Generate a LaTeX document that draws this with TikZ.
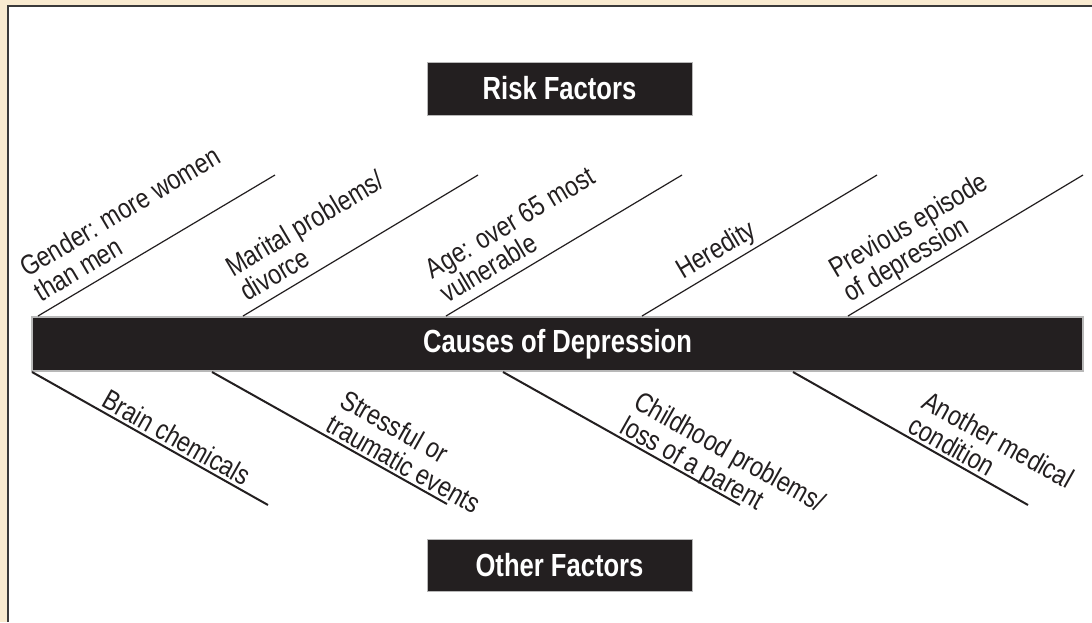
\documentclass[tikz,border=0pt]{standalone}
\usepackage{fontspec}
\setmainfont{Liberation Sans}
\newfontfamily\labfont{Liberation Sans}[FakeStretch=0.83]
\newfontfamily\ttlfont{Liberation Sans}[FakeStretch=0.8]
\usetikzlibrary{calc}
\definecolor{cream}{HTML}{F9EBD0}
\definecolor{ink}{HTML}{231F20}
\definecolor{framec}{HTML}{3A3A3A}
\definecolor{baredge}{HTML}{B8B8B8}
\begin{document}
\begin{tikzpicture}[x=1pt,y=-1pt,
  ttlbox/.style={fill=ink, draw=baredge, line width=1pt, text=white,
    font=\ttlfont\bfseries\fontsize{32}{34}\selectfont, inner sep=0pt},
  upline/.style={draw=ink, line width=1.2pt},
  lowline/.style={draw=ink, line width=2pt},
  lbl/.style={text=ink, font=\labfont\fontsize{28}{26.5}\selectfont, inner sep=0pt, anchor=base west},
]
\useasboundingbox (0,0) rectangle (1092,622);
\fill[cream] (0,0) rectangle (1092,622);
\fill[white] (7.5,5.8) rectangle (1092,622);
\draw[framec, line width=2pt] (7.5,622) -- (7.5,5.8) -- (1092,5.8);

% titles
\node[ttlbox, minimum width=265pt, minimum height=53pt] (risk) at (559.5,88.5) {Risk Factors};
\node[ttlbox, minimum width=265pt, minimum height=52pt] (other) at (559.5,565.5) {Other Factors};
\node[ttlbox, line width=1.6pt, minimum width=1051pt, minimum height=54pt] (bar) at (557.5,344) {Causes of Depression};

% upper branches
\coordinate (u1s) at (38,316);  \coordinate (u1e) at (275,175);
\coordinate (u2s) at (243,316); \coordinate (u2e) at (478,175);
\coordinate (u3s) at (446,316); \coordinate (u3e) at (682,175);
\coordinate (u4s) at (642,316); \coordinate (u4e) at (877,175);
\coordinate (u5s) at (848,316); \coordinate (u5e) at (1083,175);
\foreach \i in {1,...,5} {\draw[upline] (u\i s) -- (u\i e);}

\node[lbl, rotate=30.6] (l1) at ($(u1s)!10pt!(u1e) + (120.6:10pt)$)
  {\begin{tabular}[b]{@{}l@{}}Gender: more women\\than men\end{tabular}};
\node[lbl, rotate=30.6] (l2) at ($(u2s)!11pt!(u2e) + (120.6:10pt)$)
  {\begin{tabular}[b]{@{}l@{}}Marital problems/\\divorce\end{tabular}};
\node[lbl, rotate=30.6] (l3) at ($(u3s)!7pt!(u3e) + (120.6:10pt)$)
  {\begin{tabular}[b]{@{}l@{}}Age: over 65 most\\vulnerable\end{tabular}};
\node[lbl, rotate=30.6] (l4) at ($(u4s)!54pt!(u4e) + (120.6:10pt)$) {Heredity};
\node[lbl, rotate=30.6] (l5) at ($(u5s)!9pt!(u5e) + (120.6:10pt)$)
  {\begin{tabular}[b]{@{}l@{}}Previous episode\\of depression\end{tabular}};

% lower branches
\coordinate (d1s) at (32,372);  \coordinate (d1e) at (268,505);
\coordinate (d2s) at (212,372); \coordinate (d2e) at (447,504);
\coordinate (d3s) at (503,372); \coordinate (d3e) at (740,505);
\coordinate (d4s) at (793,372); \coordinate (d4e) at (1028,505);
\foreach \i in {1,...,4} {\draw[lowline] (d\i s) -- (d\i e);}

\node[lbl, rotate=-29.4] (m1) at ($(d1s)!76pt!(d1e) + (60.6:4pt)$) {Brain chemicals};
\node[lbl, rotate=-29.4] (m2) at ($(d2s)!127pt!(d2e) + (60.6:4pt)$)
  {\begin{tabular}[b]{@{}l@{}}Stressful or\\traumatic events\end{tabular}};
\node[lbl, rotate=-29.4] (m3) at ($(d3s)!130pt!(d3e) + (60.6:4pt)$)
  {\begin{tabular}[b]{@{}l@{}}Childhood problems/\\loss of a parent\end{tabular}};
\node[lbl, rotate=-29.4] (m4) at ($(d4s)!128pt!(d4e) + (60.6:4pt)$)
  {\begin{tabular}[b]{@{}l@{}}Another medical\\condition\end{tabular}};
\end{tikzpicture}
\end{document}
